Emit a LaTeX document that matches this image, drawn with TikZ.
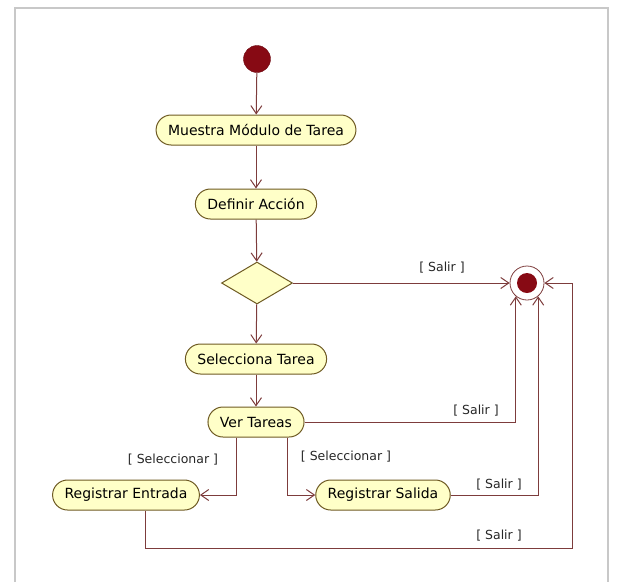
\documentclass[tikz,border=0pt]{standalone}
\usepackage{fontspec}
\setmainfont{DejaVu Sans}
\usepackage{tikz}
\usetikzlibrary{positioning,arrows.meta,shapes.geometric,calc}

\definecolor{actfill}{RGB}{255,255,200}
\definecolor{actdraw}{RGB}{110,90,35}
\definecolor{flowcol}{RGB}{125,60,60}
\definecolor{dotcol}{RGB}{135,10,20}
\definecolor{framecol}{RGB}{200,200,200}

\begin{document}
\begin{tikzpicture}[
  x=1pt, y=-1pt,
  action/.style={rectangle, rounded corners=15pt, minimum height=30pt, inner xsep=12pt,
                 draw=actdraw, line width=1pt, fill=actfill,
                 font=\fontsize{14}{16}\selectfont, text=black},
  choice/.style={diamond, minimum width=71pt, minimum height=42pt, inner sep=0pt,
                 draw=actdraw, line width=1pt, fill=actfill},
  startdot/.style={circle, minimum size=27pt, inner sep=0pt, fill=dotcol, draw=dotcol!80!black},
  enddot/.style={circle, minimum size=34pt, inner sep=0pt, draw=flowcol, line width=0.8pt},
  flow/.style={-{Straight Barb[length=8pt,width=11pt]}, draw=flowcol, line width=1pt},
  guard/.style={font=\fontsize{12.5}{14}\selectfont, text=black!85}
]
\useasboundingbox (0,0) rectangle (617,582);

% frame
\draw[framecol, line width=2pt] (15,582) |- (608,8) -- (608,582);

% nodes
\node[startdot] (start) at (257,59) {};
\node[action] (muestra) at (256,130) {Muestra Módulo de Tarea};
\node[action] (definir) at (256,204) {Definir Acción};
\node[choice] (dec) at (257,283) {};
\node[enddot] (fin) at (527,283) {};
\fill[dotcol] (fin.center) circle (10pt);
\node[action] (selecciona) at (256,359) {Selecciona Tarea};
\node[action] (ver) at (256,422) {Ver Tareas};
\node[action] (entrada) at (126,495) {Registrar Entrada};
\node[action] (salida) at (383,495) {Registrar Salida};
\coordinate (loopbr) at (572,548);

% flows
\draw[flow] (start) -- (muestra);
\draw[flow] (muestra) -- (definir);
\draw[flow] (definir) -- (dec);
\draw[flow] (dec) -- (fin);
\draw[flow] (dec) -- (selecciona);
\draw[flow] (selecciona) -- (ver);
\draw[flow] (ver.east) -| (fin.230);
\draw[flow] ([xshift=-20pt]ver.south) |- (entrada.east);
\draw[flow] ([xshift=31pt]ver.south) |- (salida.west);
\draw[flow] (salida.east) -| (fin.310);
\draw[flow] ([xshift=19pt]entrada.south) |- (loopbr) |- (fin.east);

% guards
\node[guard] at (442,268) {[ Salir ]};
\node[guard] at (476,411) {[ Salir ]};
\node[guard] at (173,460) {[ Seleccionar ]};
\node[guard] at (346,457) {[ Seleccionar ]};
\node[guard] at (499,485) {[ Salir ]};
\node[guard] at (499,536) {[ Salir ]};

\end{tikzpicture}
\end{document}
